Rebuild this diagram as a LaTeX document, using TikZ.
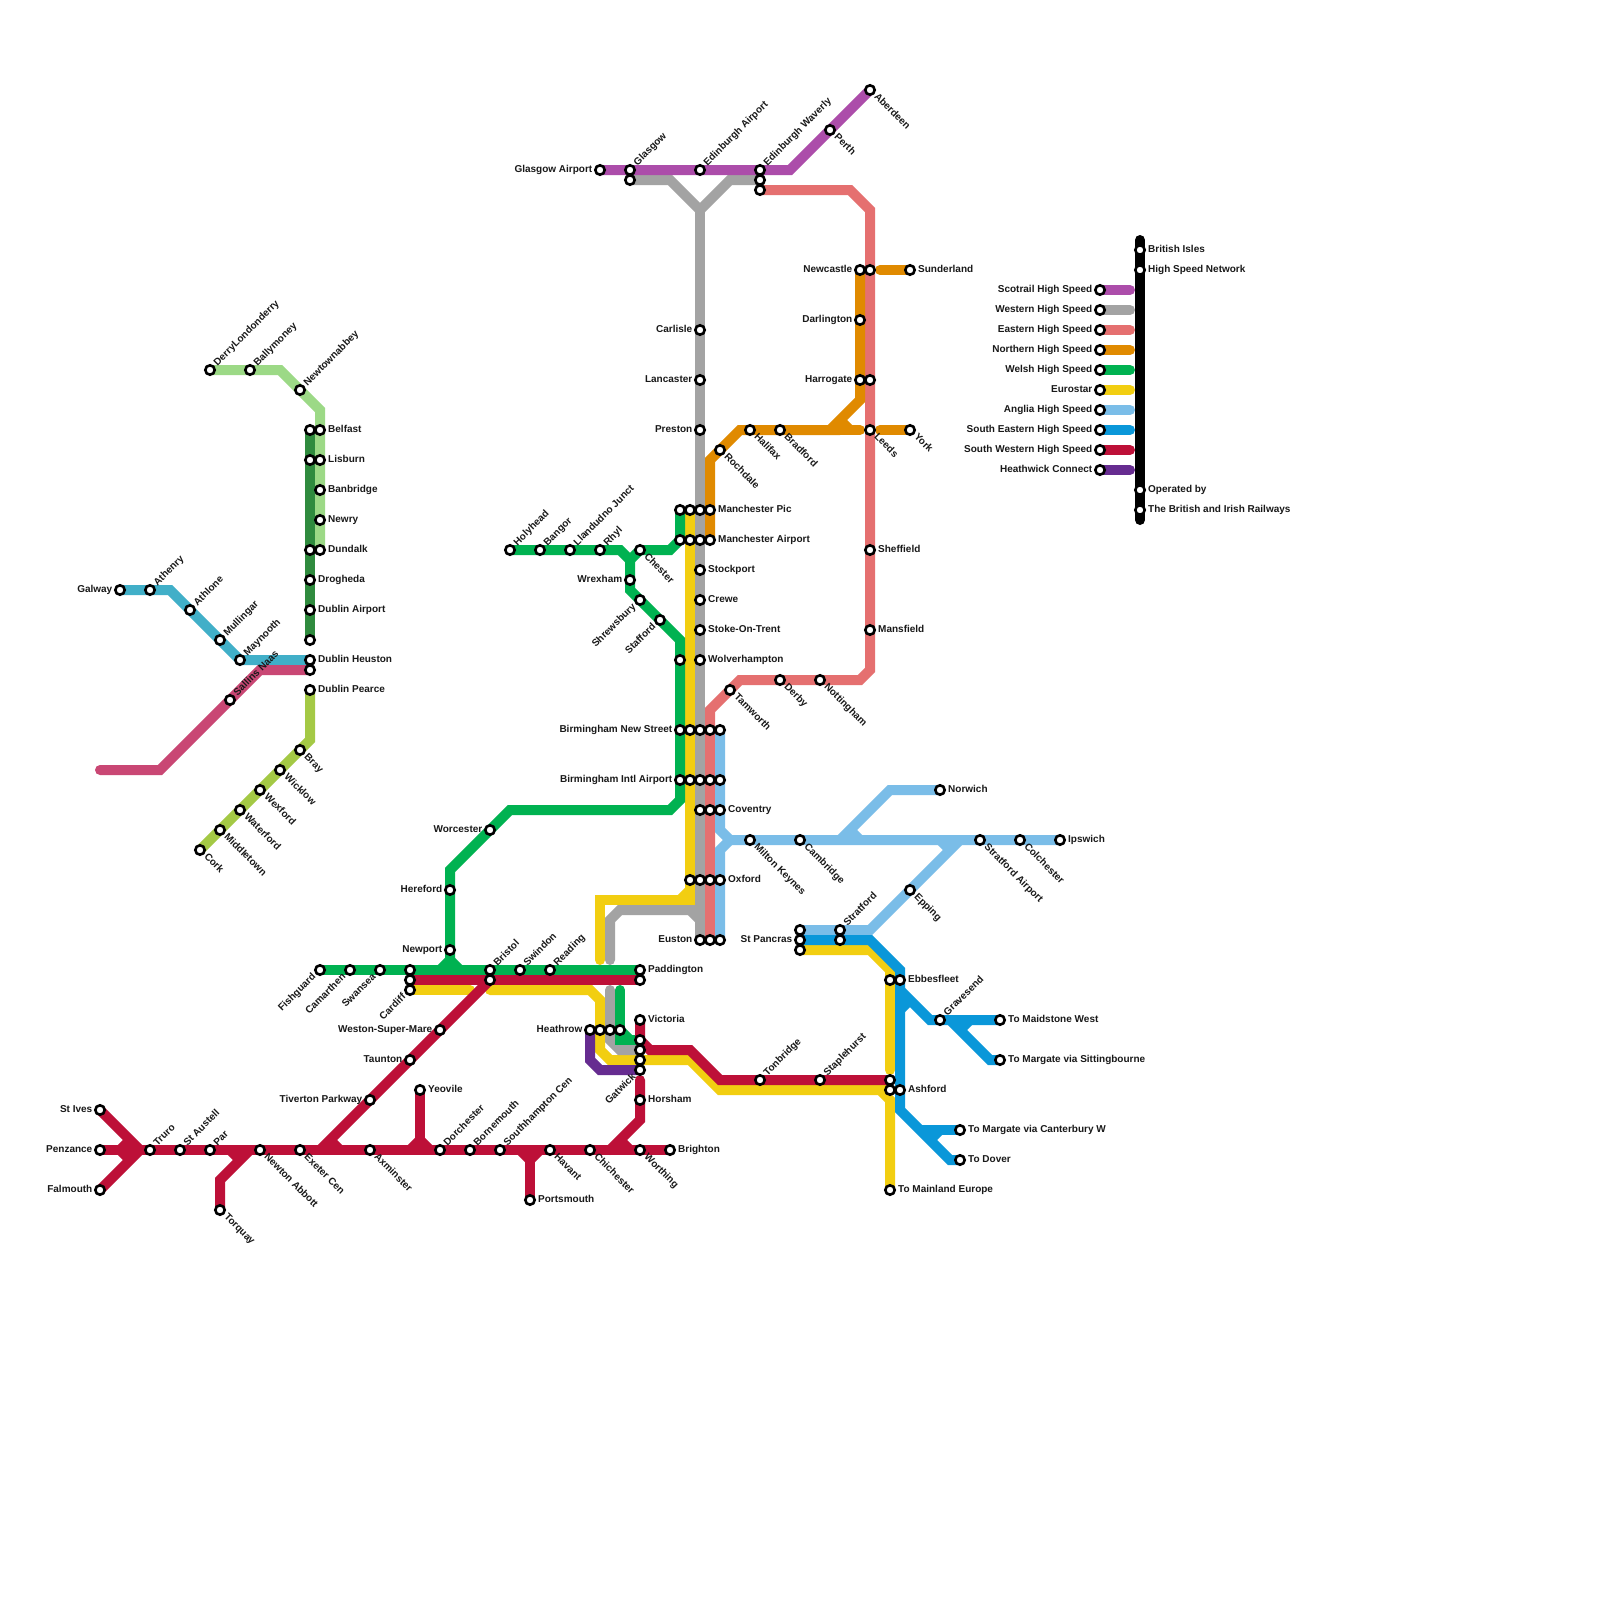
\documentclass[tikz,border=0pt]{standalone}
\usepackage{fontspec}
\setmainfont{Liberation Sans}
\pgfdeclarelayer{lines}
\pgfsetlayers{lines,main}
\definecolor{cscot}{HTML}{AC4DAA}
\definecolor{cwest}{HTML}{A3A3A3}
\definecolor{ceast}{HTML}{E57070}
\definecolor{cnorth}{HTML}{E08A00}
\definecolor{cwelsh}{HTML}{00B251}
\definecolor{ceuro}{HTML}{F2CE11}
\definecolor{cangl}{HTML}{7ABDE8}
\definecolor{cse}{HTML}{0A97D9}
\definecolor{csw}{HTML}{BD1038}
\definecolor{cheath}{HTML}{662C90}
\definecolor{cpink}{HTML}{C94774}
\definecolor{cteal}{HTML}{41AFC8}
\definecolor{clgreen}{HTML}{9CD986}
\definecolor{cdgreen}{HTML}{2F8B3E}
\definecolor{clime}{HTML}{A4C945}
\tikzset{
  ln/.style={line width=10pt,line join=miter,miter limit=10},
  rd/.style={ln,line cap=round},
  stn/.style={circle,draw=black,fill=white,line width=2.6pt,minimum size=9.4pt,inner sep=0pt,outer sep=0pt},
  lab/.style={font=\bfseries\fontsize{10}{12}\selectfont,text=black!90,inner sep=0pt},
  labr/.style={lab,anchor=mid west,xshift=8pt},
  labl/.style={lab,anchor=mid east,xshift=-7.5pt},
  labne/.style={lab,anchor=mid west,xshift=5.5pt,yshift=5.5pt,rotate=45},
  labse/.style={lab,anchor=mid west,xshift=5.5pt,yshift=-5.5pt,rotate=-45},
  labsw/.style={lab,anchor=mid east,xshift=-5.5pt,yshift=-5.5pt,rotate=45},
}
\newcommand{\st}[5]{%
  \node[stn] (#1) at (#2,#3) {};%
  \if\relax\detokenize{#5}\relax\else\node[lab#4] at (#2,#3) {#5};\fi
}
\begin{document}
\begin{tikzpicture}[x=1pt,y=-1pt]
\path[use as bounding box] (0,0) rectangle (1600,1600);
% Ireland
\st{derry}{210}{370}{ne}{DerryLondonderry}
\st{bally}{250}{370}{ne}{Ballymoney}
\st{newtown}{300}{390}{ne}{Newtownabbey}
\st{belfast}{320}{430}{r}{Belfast}
\st{belfastb}{310}{430}{}{}
\st{lisburn}{320}{460}{r}{Lisburn}
\st{lisburnb}{310}{460}{}{}
\st{banbridge}{320}{490}{r}{Banbridge}
\st{newry}{320}{520}{r}{Newry}
\st{dundalk}{320}{550}{r}{Dundalk}
\st{dundalkb}{310}{550}{}{}
\st{drogheda}{310}{580}{r}{Drogheda}
\st{dubair}{310}{610}{r}{Dublin Airport}
\st{dubend}{310}{640}{}{}
\st{heuston}{310}{660}{r}{Dublin Heuston}
\st{heustonb}{310}{670}{}{}
\st{pearce}{310}{690}{r}{Dublin Pearce}
\st{galway}{120}{590}{l}{Galway}
\st{athenry}{150}{590}{ne}{Athenry}
\st{athlone}{190}{610}{ne}{Athlone}
\st{mullingar}{220}{640}{ne}{Mullingar}
\st{maynooth}{240}{660}{ne}{Maynooth}
\st{sallins}{230}{700}{ne}{Sallins Naas}
\st{bray}{300}{750}{se}{Bray}
\st{wicklow}{280}{770}{se}{Wicklow}
\st{wexford}{260}{790}{se}{Wexford}
\st{waterford}{240}{810}{se}{Waterford}
\st{middletown}{220}{830}{se}{Middletown}
\st{cork}{200}{850}{se}{Cork}
% South Wales and west
\st{fishguard}{320}{970}{sw}{Fishguard}
\st{camarthen}{350}{970}{sw}{Camarthen}
\st{swansea}{380}{970}{sw}{Swansea}
\st{cardiffa}{410}{970}{}{}
\st{cardiffb}{410}{980}{}{}
\st{cardiff}{410}{990}{sw}{Cardiff}
\st{newport}{450}{950}{l}{Newport}
\st{hereford}{450}{890}{l}{Hereford}
\st{worcester}{490}{830}{l}{Worcester}
\st{bristol}{490}{970}{ne}{Bristol}
\st{bristolb}{490}{980}{}{}
\st{swindon}{520}{970}{ne}{Swindon}
\st{reading}{550}{970}{ne}{Reading}
\st{paddington}{640}{970}{r}{Paddington}
\st{paddingtonb}{640}{980}{}{}
\st{weston}{440}{1030}{l}{Weston-Super-Mare}
\st{taunton}{410}{1060}{l}{Taunton}
\st{tiverton}{370}{1100}{l}{Tiverton Parkway}
\st{yeovile}{420}{1090}{r}{Yeovile}
\st{stives}{100}{1110}{l}{St Ives}
\st{penzance}{100}{1150}{l}{Penzance}
\st{falmouth}{100}{1190}{l}{Falmouth}
\st{truro}{150}{1150}{ne}{Truro}
\st{staustell}{180}{1150}{ne}{St Austell}
\st{par}{210}{1150}{ne}{Par}
\st{newton}{260}{1150}{se}{Newton Abbott}
\st{torquay}{220}{1210}{se}{Torquay}
\st{exeter}{300}{1150}{se}{Exeter Cen}
\st{axminster}{370}{1150}{se}{Axminster}
\st{dorchester}{440}{1150}{ne}{Dorchester}
\st{bornemouth}{470}{1150}{ne}{Bornemouth}
\st{southampton}{500}{1150}{ne}{Southhampton Cen}
\st{havant}{550}{1150}{se}{Havant}
\st{portsmouth}{530}{1200}{r}{Portsmouth}
\st{chichester}{590}{1150}{se}{Chichester}
\st{worthing}{640}{1150}{se}{Worthing}
\st{brighton}{670}{1150}{r}{Brighton}
\st{horsham}{640}{1100}{r}{Horsham}
\st{victoria}{640}{1020}{r}{Victoria}
\st{vica}{640}{1040}{}{}
\st{vicb}{640}{1050}{}{}
\st{vicc}{640}{1060}{}{}
\st{gatwick}{640}{1070}{sw}{Gatwick}
\st{heathrow}{590}{1030}{l}{Heathrow}
\st{heathb}{600}{1030}{}{}
\st{heathc}{610}{1030}{}{}
\st{heathd}{620}{1030}{}{}
% North Wales
\st{holyhead}{510}{550}{ne}{Holyhead}
\st{bangor}{540}{550}{ne}{Bangor}
\st{llandudno}{570}{550}{ne}{Llandudno Junct}
\st{rhyl}{600}{550}{ne}{Rhyl}
\st{chester}{640}{550}{se}{Chester}
\st{wrexham}{630}{580}{l}{Wrexham}
\st{shrewsbury}{640}{600}{sw}{Shrewsbury}
\st{stafford}{660}{620}{sw}{Stafford}
% Scotland
\st{glasair}{600}{170}{l}{Glasgow Airport}
\st{glasgow}{630}{170}{ne}{Glasgow}
\st{glasgowb}{630}{180}{}{}
\st{edair}{700}{170}{ne}{Edinburgh Airport}
\st{edwav}{760}{170}{ne}{Edinburgh Waverly}
\st{edwavb}{760}{180}{}{}
\st{edwavc}{760}{190}{}{}
\st{perth}{830}{130}{se}{Perth}
\st{aberdeen}{870}{90}{se}{Aberdeen}
% Main trunk
\st{carlisle}{700}{330}{l}{Carlisle}
\st{lancaster}{700}{380}{l}{Lancaster}
\st{preston}{700}{430}{l}{Preston}
\st{manpa}{680}{510}{}{}
\st{manpb}{690}{510}{}{}
\st{manpc}{700}{510}{}{}
\st{manpic}{710}{510}{r}{Manchester Pic}
\st{manaa}{680}{540}{}{}
\st{manab}{690}{540}{}{}
\st{manac}{700}{540}{}{}
\st{manair}{710}{540}{r}{Manchester Airport}
\st{stockport}{700}{570}{r}{Stockport}
\st{crewe}{700}{600}{r}{Crewe}
\st{stoke}{700}{630}{r}{Stoke-On-Trent}
\st{wolvesb}{680}{660}{}{}
\st{wolves}{700}{660}{r}{Wolverhampton}
\st{bhamns}{680}{730}{l}{Birmingham New Street}
\st{bhamnsb}{690}{730}{}{}
\st{bhamnsc}{700}{730}{}{}
\st{bhamnsd}{710}{730}{}{}
\st{bhamnse}{720}{730}{}{}
\st{bhamia}{680}{780}{l}{Birmingham Intl Airport}
\st{bhamib}{690}{780}{}{}
\st{bhamic}{700}{780}{}{}
\st{bhamid}{710}{780}{}{}
\st{bhamie}{720}{780}{}{}
\st{covc}{700}{810}{}{}
\st{covd}{710}{810}{}{}
\st{coventry}{720}{810}{r}{Coventry}
\st{oxb}{690}{880}{}{}
\st{oxc}{700}{880}{}{}
\st{oxd}{710}{880}{}{}
\st{oxford}{720}{880}{r}{Oxford}
\st{euston}{700}{940}{l}{Euston}
\st{eustonb}{710}{940}{}{}
\st{eustonc}{720}{940}{}{}
% East
\st{newcastle}{860}{270}{l}{Newcastle}
\st{newcastleb}{870}{270}{}{}
\st{sunderland}{910}{270}{r}{Sunderland}
\st{darlington}{860}{320}{l}{Darlington}
\st{harrogate}{860}{380}{l}{Harrogate}
\st{harrogateb}{870}{380}{}{}
\st{leeds}{870}{430}{se}{Leeds}
\st{york}{910}{430}{se}{York}
\st{halifax}{750}{430}{se}{Halifax}
\st{bradford}{780}{430}{se}{Bradford}
\st{rochdale}{720}{450}{se}{Rochdale}
\st{sheffield}{870}{550}{r}{Sheffield}
\st{mansfield}{870}{630}{r}{Mansfield}
\st{tamworth}{730}{690}{se}{Tamworth}
\st{derby}{780}{680}{se}{Derby}
\st{nottingham}{820}{680}{se}{Nottingham}
\st{milton}{750}{840}{se}{Milton Keynes}
\st{cambridge}{800}{840}{se}{Cambridge}
\st{norwich}{940}{790}{r}{Norwich}
\st{stratair}{980}{840}{se}{Stratford Airport}
\st{colchester}{1020}{840}{se}{Colchester}
\st{ipswich}{1060}{840}{r}{Ipswich}
\st{epping}{910}{890}{se}{Epping}
\st{pancrasa}{800}{930}{}{}
\st{pancras}{800}{940}{l}{St Pancras}
\st{pancrasc}{800}{950}{}{}
\st{stratford}{840}{930}{ne}{Stratford}
\st{stratfordb}{840}{940}{}{}
% Kent
\st{ebbsb}{890}{980}{}{}
\st{ebbsfleet}{900}{980}{r}{Ebbesfleet}
\st{gravesend}{940}{1020}{ne}{Gravesend}
\st{maidstone}{1000}{1020}{r}{To Maidstone West}
\st{sitting}{1000}{1060}{r}{To Margate via Sittingbourne}
\st{tonbridge}{760}{1080}{ne}{Tonbridge}
\st{staplehurst}{820}{1080}{ne}{Staplehurst}
\st{ashfa}{890}{1080}{}{}
\st{ashfb}{890}{1090}{}{}
\st{ashford}{900}{1090}{r}{Ashford}
\st{canterbury}{960}{1130}{r}{To Margate via Canterbury W}
\st{dover}{960}{1160}{r}{To Dover}
\st{europe}{890}{1190}{r}{To Mainland Europe}
% Legend
\st{bisles}{1140}{250}{r}{British Isles}
\st{hsn}{1140}{270}{r}{High Speed Network}
\st{oper}{1140}{490}{r}{Operated by}
\st{tbir}{1140}{510}{r}{The British and Irish Railways}
\st{lga}{1100}{290}{l}{Scotrail High Speed}
\st{lgb}{1100}{310}{l}{Western High Speed}
\st{lgc}{1100}{330}{l}{Eastern High Speed}
\st{lgd}{1100}{350}{l}{Northern High Speed}
\st{lge}{1100}{370}{l}{Welsh High Speed}
\st{lgf}{1100}{390}{l}{Eurostar}
\st{lgg}{1100}{410}{l}{Anglia High Speed}
\st{lgh}{1100}{430}{l}{South Eastern High Speed}
\st{lgi}{1100}{450}{l}{South Western High Speed}
\st{lgj}{1100}{470}{l}{Heathwick Connect}
\coordinate (pinkfree) at (100,770);
\coordinate (blacktop) at (1140,240);
\coordinate (blackbot) at (1140,520);
\begin{pgfonlayer}{lines}
\fill[white] (0,0) rectangle (1600,1600);
% Ireland lines
\draw[ln,clgreen] (derry.center) -- (280,370) -- (320,410) -- (dundalk.center);
\draw[ln,cdgreen] (belfastb.center) -- (dubend.center);
\draw[ln,cteal] (galway.center) -- (170,590) -- (maynooth.center) -- (heuston.center);
\draw[rd,cpink] (pinkfree) -- (160,770) -- (260,670) -- (heustonb.center);
\draw[ln,clime] (pearce.center) -- (310,740) -- (cork.center);
% Eurostar
\draw[rd,ceuro] (manpb.center) -- (690,900) -- (600,900) -- (600,960);
\draw[ln,ceuro] (680,900) -- (690,890);
\draw[rd,ceuro] (cardiff.center) -- (470,990);
\draw[rd,ceuro] (490,990) -- (590,990) -- (600,1000) -- (600,1050) -- (610,1060) -- (vicc.center);
\draw[ln,ceuro] (vicc.center) -- (690,1060) -- (720,1090) -- (880,1090) -- (890,1100) -- (europe.center);
\draw[ln,ceuro] (880,1090) -- (ashfb.center);
\draw[rd,ceuro] (pancrasc.center) -- (870,950) -- (890,970) -- (890,1070);
% Western
\draw[ln,cwest] (glasgowb.center) -- (670,180) -- (700,210) -- (730,180) -- (edwavb.center);
\draw[ln,cwest] (700,210) -- (euston.center);
\draw[rd,cwest] (610,960) -- (610,920) -- (620,910) -- (695,910);
\draw[ln,cwest] (690,910) -- (700,920);
\draw[rd,cwest] (610,990) -- (610,1040) -- (620,1050) -- (vicb.center);
% Eastern
\draw[ln,ceast] (edwavc.center) -- (850,190) -- (870,210) -- (870,670) -- (860,680) -- (740,680) -- (710,710) -- (eustonb.center);
% Northern
\draw[ln,cnorth] (manair.center) -- (710,460) -- (740,430) -- (840,430);
\draw[rd,cnorth] (830,430) -- (860,430);
\draw[ln,cnorth] (newcastle.center) -- (860,400) -- (830,430);
\draw[ln,cnorth] (840,420) -- (850,430);
\draw[rd,cnorth] (880,270) -- (sunderland.center);
\draw[rd,cnorth] (880,430) -- (york.center);
% Welsh
\draw[ln,cwelsh] (fishguard.center) -- (paddington.center);
\draw[ln,cwelsh] (450,960) -- (newport.center) -- (450,870) -- (510,810) -- (670,810) -- (680,800) -- (680,640) -- (630,590) -- (630,560) -- (620,550) -- (holyhead.center);
\draw[ln,cwelsh] (630,560) -- (640,550) -- (670,550) -- (680,540) -- (manpa.center);
\draw[ln,cwelsh] (450,960) -- (440,970);
\draw[ln,cwelsh] (450,960) -- (460,970);
\draw[rd,cwelsh] (620,990) -- (620,1040) -- (635,1040);
\draw[ln,cwelsh] (620,1040) -- (vica.center);
\draw[ln,cwelsh] (620,1030) -- (630,1040);
% Scotrail
\draw[ln,cscot] (glasair.center) -- (790,170) -- (aberdeen.center);
% Anglia
\draw[ln,cangl] (bhamnse.center) -- (720,830) -- (730,840) -- (ipswich.center);
\draw[ln,cangl] (eustonc.center) -- (720,850) -- (730,840);
\draw[ln,cangl] (840,840) -- (890,790) -- (norwich.center);
\draw[ln,cangl] (850,830) -- (860,840);
\draw[ln,cangl] (pancrasa.center) -- (870,930) -- (960,840);
\draw[ln,cangl] (940,840) -- (950,850);
% South Eastern
\draw[ln,cse] (pancras.center) -- (870,940) -- (900,970) -- (900,1110) -- (950,1160) -- (dover.center);
\draw[ln,cse] (900,990) -- (930,1020) -- (maidstone.center);
\draw[ln,cse] (900,1010) -- (910,1000);
\draw[ln,cse] (950,1020) -- (990,1060) -- (sitting.center);
\draw[ln,cse] (960,1030) -- (970,1020);
\draw[ln,cse] (920,1130) -- (canterbury.center);
\draw[ln,cse] (930,1140) -- (940,1130);
% South Western
\draw[ln,csw] (penzance.center) -- (brighton.center);
\draw[ln,csw] (stives.center) -- (140,1150) -- (falmouth.center);
\draw[ln,csw] (130,1140) -- (120,1150);
\draw[ln,csw] (120,1150) -- (130,1160);
\draw[ln,csw] (torquay.center) -- (220,1180) -- (250,1150);
\draw[ln,csw] (240,1160) -- (230,1150);
\draw[ln,csw] (cardiffb.center) -- (paddingtonb.center);
\draw[ln,csw] (490,980) -- (320,1150);
\draw[ln,csw] (330,1140) -- (340,1150);
\draw[ln,csw] (yeovile.center) -- (420,1150);
\draw[ln,csw] (420,1140) -- (410,1150);
\draw[ln,csw] (420,1140) -- (430,1150);
\draw[ln,csw] (portsmouth.center) -- (530,1150);
\draw[ln,csw] (530,1160) -- (520,1150);
\draw[ln,csw] (530,1160) -- (540,1150);
\draw[rd,csw] (640,1080) -- (640,1120) -- (610,1150);
\draw[ln,csw] (620,1140) -- (630,1150);
\draw[ln,csw] (victoria.center) -- (vica.center) -- (650,1050) -- (690,1050) -- (720,1080) -- (ashfa.center);
% Heathwick
\draw[ln,cheath] (heathrow.center) -- (590,1060) -- (600,1070) -- (gatwick.center);
% Legend
\draw[rd,black] (blacktop) -- (blackbot);
\draw[rd,cscot] (lga.center) -- ++(30,0);
\draw[rd,cwest] (lgb.center) -- ++(30,0);
\draw[rd,ceast] (lgc.center) -- ++(30,0);
\draw[rd,cnorth] (lgd.center) -- ++(30,0);
\draw[rd,cwelsh] (lge.center) -- ++(30,0);
\draw[rd,ceuro] (lgf.center) -- ++(30,0);
\draw[rd,cangl] (lgg.center) -- ++(30,0);
\draw[rd,cse] (lgh.center) -- ++(30,0);
\draw[rd,csw] (lgi.center) -- ++(30,0);
\draw[rd,cheath] (lgj.center) -- ++(30,0);
\end{pgfonlayer}
\end{tikzpicture}
\end{document}
